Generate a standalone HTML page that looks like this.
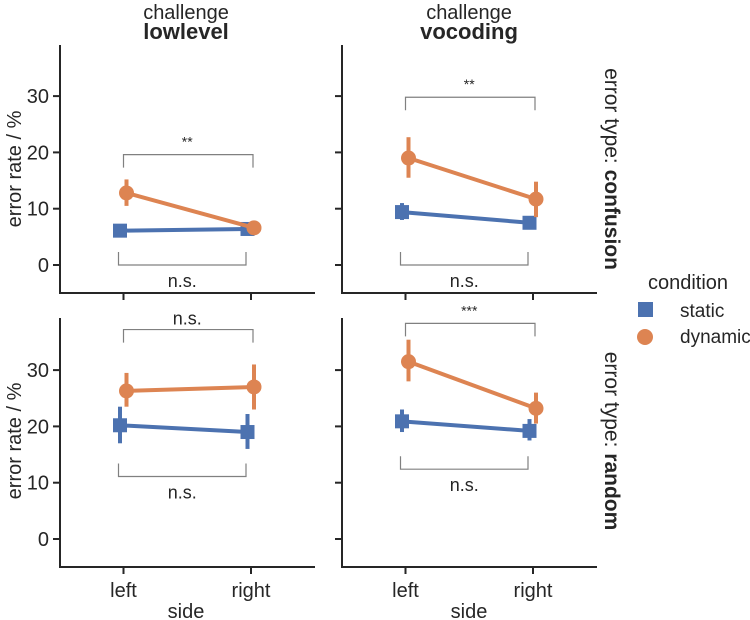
<!DOCTYPE html>
<html><head><meta charset="utf-8">
<style>
html,body{margin:0;padding:0;background:#fff;}
svg{display:block;font-family:"Liberation Sans",sans-serif;}
</style></head>
<body>
<svg id="chart" width="750" height="620" viewBox="0 0 750 620"></svg>
<script>
// Data
const sides = ["left","right"];
const conditions = ["static","dynamic"];
const yTicks = [0,10,20,30];
const colTitles = ["lowlevel","vocoding"];
const rowTitles = ["confusion","random"];
// [panel][side] mean, lo, hi
const staticMean = [[6.1,6.4],[9.4,7.5],[20.2,19.0],[20.9,19.2]];
const staticLo   = [[5.3,5.6],[8.0,6.6],[17.0,16.0],[19.0,17.5]];
const staticHi   = [[7.0,7.3],[11.0,8.5],[23.5,22.2],[23.0,21.3]];
const dynamicMean= [[12.8,6.6],[19.0,11.7],[26.3,27.0],[31.5,23.2]];
const dynamicLo  = [[10.5,5.8],[15.5,8.5],[23.5,23.0],[28.0,20.5]];
const dynamicHi  = [[15.2,7.4],[22.7,14.8],[29.5,31.0],[35.4,26.0]];
// brackets: [panel] value level, label
const topBracketVal = [19.6, 29.8, 37.2, 38.3];
const topBracketLabel = ["**","**","n.s.","***"];
const botBracketVal = [0, 0, 11.1, 12.4];
const botBracketLabel = ["n.s.","n.s.","n.s.","n.s."];

const NS="http://www.w3.org/2000/svg";
const svg=document.getElementById('chart');
function mk(tag,attrs,parent){const e=document.createElementNS(NS,tag);for(const k in attrs)e.setAttribute(k,attrs[k]);(parent||svg).appendChild(e);return e;}
const BLUE="#4c72b0", ORANGE="#dd8452", DARK="#262626", GRAY="#808080";
const panelX=[60,342];
const panelZeroY=[265,539];
const pxPer=5.63;
const spineTop=[45,318], spineBottom=[293,567];
for(let r=0;r<2;r++){
  for(let c=0;c<2;c++){
    const p=r*2+c;
    const x0=panelX[c];
    const y=v=>panelZeroY[r]-v*pxPer;
    const xs=i=>x0+63.5+i*127.5;
    const g=mk('g',{});
    
    
    const ax=mk('path',{d:`M${x0} ${spineTop[r]} V${spineBottom[r]} H${x0+255}`,stroke:DARK,'stroke-width':2,fill:'none'},g);
    
    
    yTicks.forEach(t=>{
      const tk=mk('line',{x1:x0-7,x2:x0,y1:y(t),y2:y(t),stroke:DARK,'stroke-width':2},g);
      
      
      if(c===0){
        const tl=mk('text',{x:x0-11,y:y(t)+7,'text-anchor':'end','font-size':20,fill:DARK},g);
        tl.textContent=t;
        
        
      }
    });
    sides.forEach((s,i)=>{
      const tk=mk('line',{x1:xs(i),x2:xs(i),y1:spineBottom[r],y2:spineBottom[r]+7,stroke:DARK,'stroke-width':2},g);
      
      
      if(r===1){
        const tl=mk('text',{x:xs(i),y:597,'text-anchor':'middle','font-size':20,fill:DARK},g);
        tl.textContent=s;
        
        
      }
    });
    // brackets
    const tb=y(topBracketVal[p]);
    const b1=mk('path',{d:`M${xs(0)} ${tb+13} V${tb} H${xs(1)+2} V${tb+13}`,stroke:GRAY,'stroke-width':1.2,fill:'none'},g);
    
    
    const t1=mk('text',{x:(xs(0)+xs(1))/2,y:tb-(topBracketLabel[p]==="n.s."?5:8),'text-anchor':'middle','font-size':topBracketLabel[p]==="n.s."?18:14,fill:DARK},g);
    t1.textContent=topBracketLabel[p];
    
    
    const bb=y(botBracketVal[p]);
    const b2=mk('path',{d:`M${xs(0)-5} ${bb-13} V${bb} H${xs(1)-5} V${bb-13}`,stroke:GRAY,'stroke-width':1.2,fill:'none'},g);
    
    
    const t2=mk('text',{x:(xs(0)+xs(1))/2-5,y:bb+22,'text-anchor':'middle','font-size':18,fill:DARK},g);
    t2.textContent=botBracketLabel[p];
    
    
    // series
    [[staticMean,staticLo,staticHi,BLUE,-3.5],[dynamicMean,dynamicLo,dynamicHi,ORANGE,3]].forEach(([m,lo,hi,col,off],si)=>{
      const pts=sides.map((s,i)=>[xs(i)+off,y(m[p][i])]);
      const ln=mk('polyline',{points:pts.map(q=>q.join(',')).join(' '),stroke:col,'stroke-width':4,fill:'none'},g);
      
      
      sides.forEach((s,i)=>{
        const eb=mk('line',{x1:pts[i][0],x2:pts[i][0],y1:y(lo[p][i]),y2:y(hi[p][i]),stroke:col,'stroke-width':4},g);
        
        
        let mkr;
        if(si===0) mkr=mk('rect',{x:pts[i][0]-7,y:pts[i][1]-7,width:14,height:14,fill:col},g);
        else mkr=mk('circle',{cx:pts[i][0],cy:pts[i][1],r:7.5,fill:col},g);
        
        
      });
    });
  }
}
// column titles
[186,469].forEach((cx,c)=>{
  const a=mk('text',{x:cx,y:19,'text-anchor':'middle','font-size':20,fill:DARK});
  a.textContent='challenge';
  
  
  const b=mk('text',{x:cx,y:39,'text-anchor':'middle','font-size':22,'font-weight':'bold',fill:DARK});
  b.textContent=colTitles[c];
  
  
});
// row titles
[169,441].forEach((cy,r)=>{
  const t=mk('text',{x:0,y:0,'text-anchor':'middle','font-size':21,fill:DARK,transform:`translate(605 ${cy}) rotate(90)`});
  t.innerHTML='error type: <tspan font-weight="bold">'+rowTitles[r]+'</tspan>';
  
  
  const yl=mk('text',{x:0,y:0,'text-anchor':'middle','font-size':20,fill:DARK,transform:`translate(21 ${cy}) rotate(-90)`});
  yl.textContent='error rate / %';
  
  
});
[186,469].forEach(cx=>{
  const t=mk('text',{x:cx,y:618,'text-anchor':'middle','font-size':20,fill:DARK});
  t.textContent='side';
  
  
});
// legend
const lt=mk('text',{x:688,y:289,'text-anchor':'middle','font-size':20,fill:DARK});
lt.textContent='condition';


const ls=mk('rect',{x:638,y:302,width:15,height:15,fill:BLUE});


const lst=mk('text',{x:680,y:317,'font-size':19,fill:DARK});
lst.textContent='static';


const ld=mk('circle',{cx:645,cy:337,r:8,fill:ORANGE});


const ldt=mk('text',{x:680,y:343,'font-size':19,fill:DARK});
ldt.textContent='dynamic';


</script>
</body></html>
